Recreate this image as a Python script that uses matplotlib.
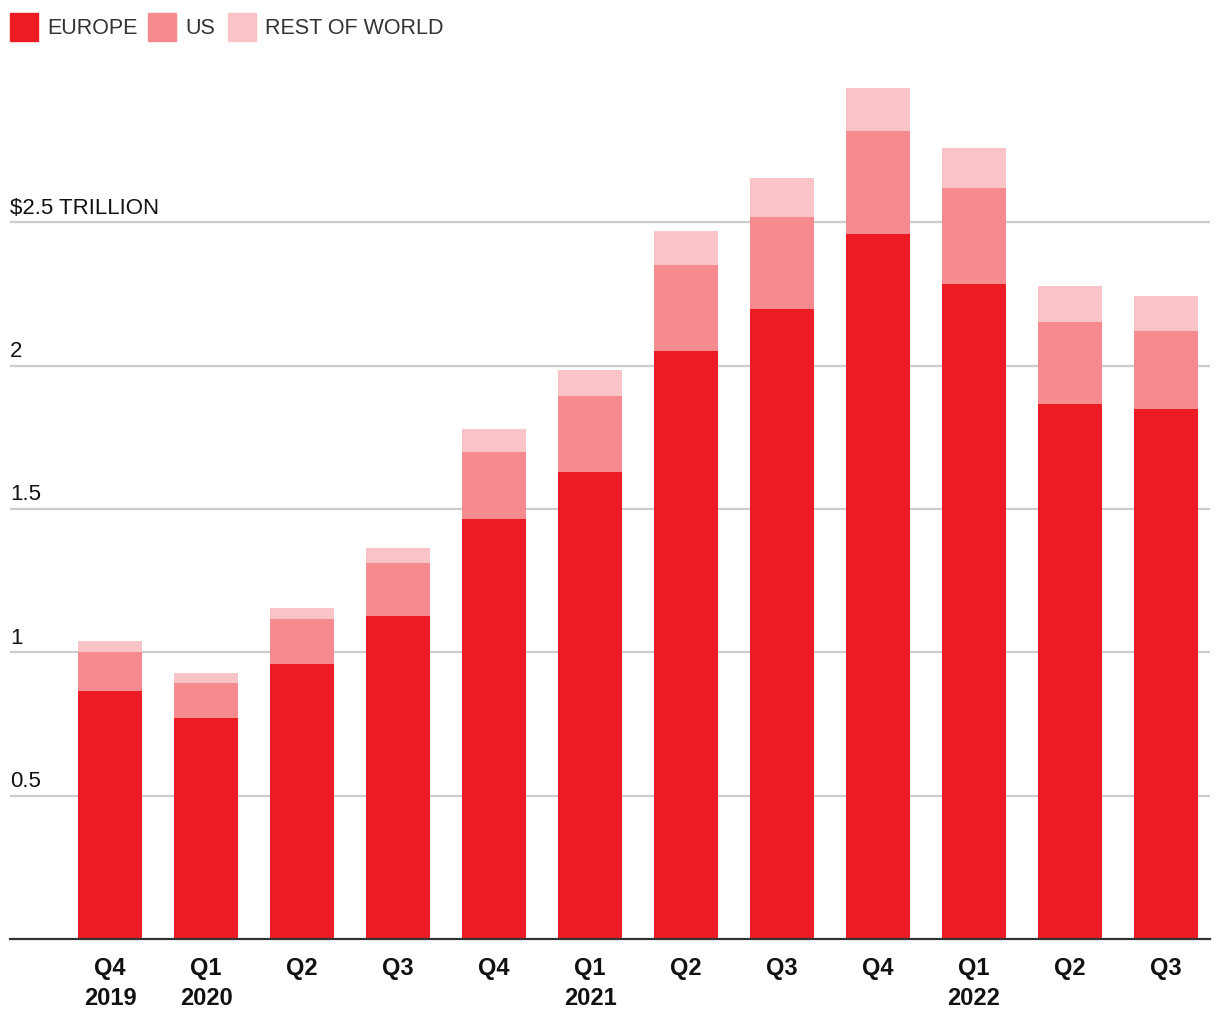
import matplotlib.pyplot as plt
import matplotlib.transforms as mtransforms
from matplotlib.patches import Rectangle
import numpy as np

plt.rcParams['font.family'] = ['Liberation Sans', 'DejaVu Sans']

quarters = ['Q4\n2019', 'Q1\n2020', 'Q2', 'Q3', 'Q4', 'Q1\n2021', 'Q2', 'Q3', 'Q4', 'Q1\n2022', 'Q2', 'Q3']
# cumulative tops ($ trillion)
europe_top = [0.865, 0.771, 0.960, 1.127, 1.465, 1.629, 2.052, 2.198, 2.460, 2.285, 1.867, 1.849]
us_top = [1.001, 0.893, 1.117, 1.312, 1.699, 1.895, 2.352, 2.519, 2.819, 2.620, 2.153, 2.121]
world_top = [1.040, 0.928, 1.155, 1.364, 1.779, 1.985, 2.470, 2.655, 2.969, 2.760, 2.278, 2.244]

europe = np.array(europe_top)
us = np.array(us_top) - europe
world = np.array(world_top) - np.array(us_top)

yticks = [0.5, 1, 1.5, 2, 2.5]
ylabels = ['0.5', '1', '1.5', '2', '$2.5 TRILLION']

c_eu = '#ed1c24'
c_us = '#f58b8e'
c_rw = '#f9c4c7'

fig = plt.figure(figsize=(12.2, 10.2), dpi=100)
ax = fig.add_axes([10 / 1220, 80 / 1020, 1200 / 1220, 860 / 1020])

x = np.arange(len(quarters))
w = 0.66
ax.bar(x, europe, w, color=c_eu, zorder=3)
ax.bar(x, us, w, bottom=europe, color=c_us, zorder=3)
ax.bar(x, world, w, bottom=np.array(us_top), color=c_rw, zorder=3)

ax.set_xlim(-1.042, 11.458)
ax.set_ylim(0, 3.0)

for s in ['top', 'right', 'left']:
    ax.spines[s].set_visible(False)
ax.spines['bottom'].set_color('#333333')
ax.spines['bottom'].set_linewidth(1.6)
ax.spines['bottom'].set_zorder(4)

for yv in yticks:
    ax.axhline(yv, color='#cccccc', lw=1.6, zorder=1)

off = mtransforms.offset_copy(ax.get_yaxis_transform(), fig=fig, x=0, y=7, units='points')
for yv, lab in zip(yticks, ylabels):
    ax.text(0, yv, lab, transform=off, ha='left', va='baseline', fontsize=16, color='#111111')

ax.set_yticks([])
ax.set_xticks(x)
ax.set_xticklabels(quarters, fontsize=17, fontweight='bold', color='#111111', linespacing=1.4)
ax.tick_params(axis='x', length=0, pad=12)

# legend
items = [('EUROPE', c_eu, 10), ('US', c_us, 148), ('REST OF WORLD', c_rw, 228)]
for lab, col, px in items:
    fig.add_artist(Rectangle((px / 1220, 1 - 42 / 1020), 28 / 1220, 28 / 1020,
                             transform=fig.transFigure, color=col))
    fig.text((px + 37) / 1220, 1 - 28 / 1020, lab, ha='left', va='center', fontsize=15.5, color='#333333')

fig.savefig('out.png', dpi=100)
